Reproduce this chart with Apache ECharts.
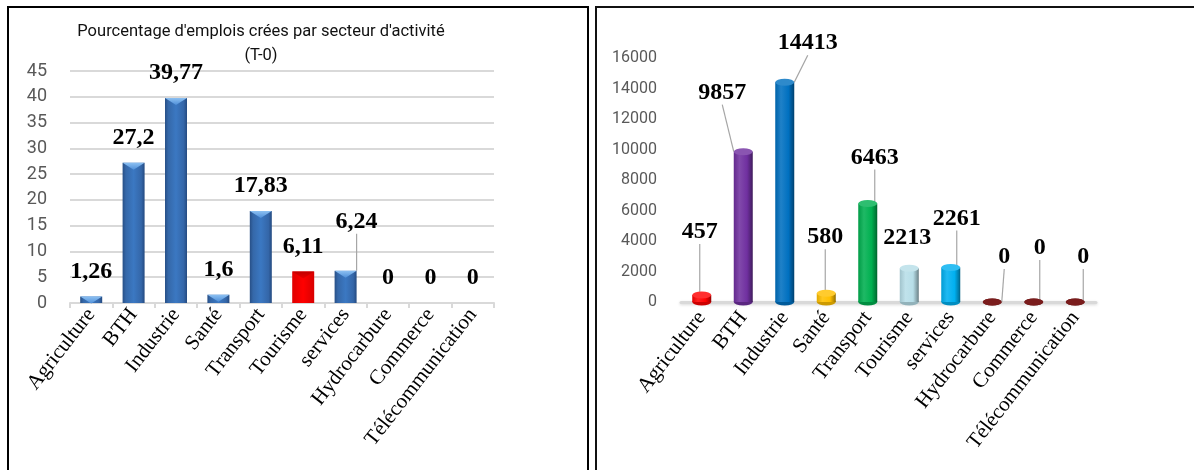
<!DOCTYPE html>
<html>
<head>
<meta charset="utf-8">
<script src="https://cdn.jsdelivr.net/npm/echarts@6/dist/echarts.min.js"></script>
<style>
  html, body { margin: 0; padding: 0; background: #fff; }
  body { width: 1194px; height: 470px; position: relative; overflow: hidden; }
  .frame { position: absolute; box-sizing: border-box; pointer-events: none; }
  #frameLeft { left: 7px; top: 6px; width: 582px; height: 480px; border: 2px solid #000; border-bottom: none; }
  #frameRight { left: 595px; top: 6px; width: 620px; height: 480px; border-left: 2px solid #111; border-top: 2px solid #111; }
  #chart { position: absolute; left: 0; top: 0; width: 1194px; height: 470px; }
</style>
</head>
<body>
<div id="frameLeft" class="frame"></div>
<div id="frameRight" class="frame"></div>
<div id="chart"></div>
<script>
// Sectors of activity
const categories = ['Agriculture', 'BTH', 'Industrie', 'Santé', 'Transport', 'Tourisme', 'services', 'Hydrocarbure', 'Commerce', 'Télécommunication'];
// Share of jobs created per sector (%)
const pctValues = [1.26, 27.2, 39.77, 1.6, 17.83, 6.11, 6.24, 0, 0, 0];
// Number of jobs created per sector
const jobValues = [457, 9857, 14413, 580, 6463, 2213, 2261, 0, 0, 0];
// Value axes
const pctTicks = { min: 0, max: 45, step: 5 };
const jobTicks = { min: 0, max: 16000, step: 2000 };

const chartTitle = "Pourcentage d'emplois crées par secteur d'activité\n(T-0)";

// ---- styling helpers ----
function shade(hex, f) {
  const n = parseInt(hex.slice(1), 16);
  let r = (n >> 16) & 255, g = (n >> 8) & 255, b = n & 255;
  const t = f < 0 ? 0 : 255, p = Math.abs(f);
  r = Math.round((t - r) * p + r); g = Math.round((t - g) * p + g); b = Math.round((t - b) * p + b);
  return 'rgb(' + r + ',' + g + ',' + b + ')';
}
function hGrad(stops) {
  return { type: 'linear', x: 0, y: 0, x2: 1, y2: 0, colorStops: stops.map(s => ({ offset: s[0], color: s[1] })) };
}
function vGrad(stops) {
  return { type: 'linear', x: 0, y: 0, x2: 0, y2: 1, colorStops: stops.map(s => ({ offset: s[0], color: s[1] })) };
}
const dash = v => (v > 0 ? v : '-');

// left chart: blue bevelled bars, Tourisme in red
const blueBody = hGrad([[0, '#274f86'], [0.15, '#3568a9'], [0.5, '#3b78c2'], [0.85, '#3466a8'], [1, '#244a80']]);
const blueCap = vGrad([[0, '#8cc0f2'], [1, '#4f8fd8']]);
const redBody = hGrad([[0, '#e00000'], [0.5, '#ff0000'], [1, '#d80000']]);
const redCap = vGrad([[0, '#c00000'], [1, '#e80000']]);
const isRed = name => name === 'Tourisme';

// right chart: cylinder colours per sector
const cylColors = ['#ff0000', '#7030a0', '#0070c0', '#ffc000', '#00b050', '#b7dee8', '#00b0f0', '#7a1c1c', '#7a1c1c', '#7a1c1c'];
const cylBody = c => hGrad([[0, shade(c, -0.12)], [0.3, shade(c, 0.12)], [0.7, c], [0.92, shade(c, -0.3)], [1, shade(c, -0.45)]]);

// label nudges (pixels) from the default "top" position
const pctNudge = { 6: [11, -24] };
const jobNudge = [[-2, -38], [-21, -34], [23, -14], [-1, -31], [7, -21], [-2, -5], [6, -24], [12, -20], [6, -29], [8, -20]];
const jobNoLeader = { 5: true };

const guide = { show: true, lineStyle: { color: '#a6a6a6', width: 1.2 } };
const valueLabelFont = { fontFamily: '"Liberation Serif", "Times New Roman", serif', fontWeight: 'bold', fontSize: 24, color: '#000' };
const catLabel = { rotate: 52, interval: 0, fontFamily: '"Liberation Serif", "Times New Roman", serif', fontSize: 21, color: '#000', margin: 8 };

const chart = echarts.init(document.getElementById('chart'), null, { renderer: 'canvas' });

chart.setOption({
  animation: false,
  backgroundColor: 'transparent',
  title: {
    text: chartTitle,
    left: 256, top: 15, textAlign: 'center',
    textStyle: { fontFamily: 'Roboto, "Noto Sans", sans-serif', fontSize: 16.5, fontWeight: 'normal', color: '#111', lineHeight: 24 }
  },
  grid: [
    { left: 70, top: 71, width: 424, height: 232 },
    { left: 681, top: 58, width: 415, height: 244 }
  ],
  xAxis: [
    {
      type: 'category', gridIndex: 0, data: categories,
      axisLine: { lineStyle: { color: '#d9d9d9', width: 2 } },
      axisTick: { show: true, length: 5, alignWithLabel: false, lineStyle: { color: '#d9d9d9', width: 2 } },
      axisLabel: catLabel
    },
    {
      type: 'category', gridIndex: 1, data: categories,
      axisLine: { lineStyle: { color: '#d9d9d9', width: 3, shadowColor: 'rgba(0,0,0,0.15)', shadowBlur: 3, shadowOffsetY: 1 } },
      axisTick: { show: false },
      axisLabel: Object.assign({}, catLabel, { margin: 12 })
    }
  ],
  yAxis: [
    {
      type: 'value', gridIndex: 0, min: pctTicks.min, max: pctTicks.max, interval: pctTicks.step,
      axisLine: { show: false }, axisTick: { show: false },
      splitLine: { lineStyle: { color: '#d9d9d9', width: 2 } },
      axisLabel: { fontFamily: 'Roboto, "Noto Sans", sans-serif', fontSize: 18, color: '#595959', margin: 23 }
    },
    {
      type: 'value', gridIndex: 1, min: jobTicks.min, max: jobTicks.max, interval: jobTicks.step,
      axisLine: { show: false }, axisTick: { show: false }, splitLine: { show: false },
      axisLabel: { fontFamily: 'Roboto, "Noto Sans", sans-serif', fontSize: 16, color: '#595959', margin: 24, formatter: v => String(v) }
    }
  ],
  series: [
    // ---- percentage bars ----
    {
      type: 'bar', xAxisIndex: 0, yAxisIndex: 0, barWidth: 22, z: 2,
      data: pctValues.map((v, i) => ({
        value: v,
        itemStyle: { color: isRed(categories[i]) ? redBody : blueBody },
        labelLine: { show: !!pctNudge[i] }
      })),
      label: {
        show: true, position: 'top', distance: 13,
        formatter: p => String(p.value).replace('.', ','),
        ...valueLabelFont
      },
      labelLayout: p => {
        const n = pctNudge[p.dataIndex];
        return n ? { dx: n[0], dy: n[1] } : {};
      },
      labelLine: guide
    },
    {
      type: 'pictorialBar', xAxisIndex: 0, yAxisIndex: 0, barWidth: 22, z: 3,
      symbol: 'path://M0,0L10,0L5,5Z', symbolSize: [22, 7], symbolPosition: 'end',
      silent: true,
      data: pctValues.map((v, i) => ({
        value: dash(v),
        itemStyle: { color: isRed(categories[i]) ? redCap : blueCap }
      }))
    },
    // ---- job count cylinders ----
    {
      type: 'bar', xAxisIndex: 1, yAxisIndex: 1, barWidth: 19, z: 2,
      data: jobValues.map((v, i) => ({
        value: v,
        itemStyle: { color: cylBody(cylColors[i]) },
        labelLine: { show: !jobNoLeader[i] }
      })),
      label: {
        show: true, position: 'top', distance: 13,
        ...valueLabelFont
      },
      labelLayout: p => {
        const n = jobNudge[p.dataIndex];
        return { dx: n[0], dy: n[1] };
      },
      labelLine: guide
    },
    {
      type: 'pictorialBar', xAxisIndex: 1, yAxisIndex: 1, barWidth: 19, barGap: '-100%', z: 1,
      symbol: 'circle', symbolSize: [19, 7], symbolPosition: 'start', symbolOffset: [0, '50%'], silent: true,
      data: jobValues.map((v, i) => ({ value: v, itemStyle: { color: shade(cylColors[i], -0.2) } }))
    },
    {
      type: 'pictorialBar', xAxisIndex: 1, yAxisIndex: 1, barWidth: 19, barGap: '-100%', z: 3,
      symbol: 'circle', symbolSize: [19, 7], symbolPosition: 'end', symbolOffset: [0, '-50%'], silent: true,
      data: jobValues.map((v, i) => ({
        value: v,
        itemStyle: { color: v > 0 ? shade(cylColors[i], 0.18) : cylColors[i] }
      }))
    }
  ]
});
</script>
</body>
</html>
